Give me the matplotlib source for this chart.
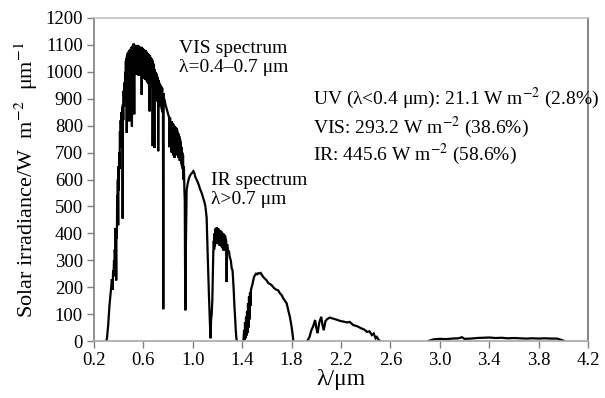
import numpy as np
import matplotlib
matplotlib.use("Agg")
import matplotlib.pyplot as plt

plt.rcParams["font.family"] = ["Liberation Serif", "DejaVu Serif"]
plt.rcParams["mathtext.fontset"] = "stix"

# UV + visible + near IR band up to the 1.4 um water gap
band1_wl = [0.300, 0.305, 0.315, 0.325, 0.335, 0.345, 0.350, 0.355, 0.358, 0.362,
            0.365, 0.368, 0.372, 0.375, 0.378, 0.380, 0.382, 0.385, 0.388, 0.390,
            0.393, 0.396, 0.398, 0.401, 0.404, 0.407, 0.410, 0.413, 0.416, 0.419,
            0.422, 0.425, 0.428, 0.431, 0.432, 0.434, 0.437, 0.440, 0.443, 0.446,
            0.449, 0.452, 0.455, 0.458, 0.461, 0.464, 0.465, 0.467, 0.470, 0.473,
            0.476, 0.479, 0.482, 0.485, 0.486, 0.488, 0.491, 0.494, 0.497, 0.500,
            0.503, 0.505, 0.507, 0.510, 0.513, 0.516, 0.519, 0.522, 0.524, 0.526,
            0.529, 0.532, 0.535, 0.538, 0.541, 0.544, 0.547, 0.550, 0.553, 0.556,
            0.559, 0.562, 0.565, 0.568, 0.571, 0.574, 0.577, 0.580, 0.583, 0.586,
            0.589, 0.592, 0.595, 0.598, 0.601, 0.604, 0.607, 0.610, 0.613, 0.616,
            0.619, 0.622, 0.625, 0.628, 0.631, 0.634, 0.637, 0.640, 0.643, 0.646,
            0.648, 0.650, 0.653, 0.656, 0.659, 0.662, 0.665, 0.668, 0.671, 0.674,
            0.675, 0.677, 0.680, 0.683, 0.686, 0.689, 0.692, 0.695, 0.698, 0.701,
            0.704, 0.707, 0.710, 0.713, 0.716, 0.719, 0.720, 0.722, 0.725, 0.728,
            0.731, 0.734, 0.737, 0.740, 0.743, 0.746, 0.749, 0.752, 0.755, 0.758,
            0.761, 0.764, 0.767, 0.772, 0.778, 0.784, 0.790, 0.796, 0.802, 0.808,
            0.812, 0.816, 0.820, 0.824, 0.828, 0.831, 0.834, 0.837, 0.840, 0.843,
            0.846, 0.849, 0.852, 0.855, 0.858, 0.861, 0.864, 0.867, 0.870, 0.873,
            0.876, 0.879, 0.882, 0.885, 0.888, 0.891, 0.894, 0.897, 0.900, 0.903,
            0.906, 0.909, 0.912, 0.915, 0.918, 0.921, 0.924, 0.928, 0.932, 0.935,
            0.937, 0.940, 0.944, 0.950, 0.958, 0.966, 0.975, 0.985, 0.995, 1.004,
            1.012, 1.020, 1.030, 1.040, 1.050, 1.058, 1.066, 1.075, 1.085, 1.095,
            1.102, 1.107, 1.112, 1.116, 1.120, 1.125, 1.130, 1.135, 1.139, 1.143,
            1.148, 1.153, 1.158, 1.162, 1.166, 1.170, 1.173, 1.176, 1.179, 1.182,
            1.185, 1.188, 1.191, 1.194, 1.197, 1.200, 1.203, 1.206, 1.209, 1.212,
            1.215, 1.218, 1.221, 1.224, 1.227, 1.230, 1.233, 1.236, 1.239, 1.242,
            1.245, 1.248, 1.251, 1.254, 1.258, 1.262, 1.266, 1.270, 1.274, 1.278,
            1.284, 1.292, 1.300, 1.308, 1.315, 1.322, 1.330, 1.336, 1.342, 1.348,
            1.352, 1.356]
band1_val = [0, 10, 60, 130, 180, 230, 190, 262, 240, 300,
             270, 340, 300, 420, 330, 225, 420, 380, 540, 470,
             600, 430, 650, 560, 700, 640, 780, 720, 820, 760,
             850, 780, 870, 800, 455, 880, 820, 930, 870, 960,
             900, 1000, 930, 1040, 960, 1050, 773, 1060, 980, 1070,
             990, 1075, 985, 1080, 816, 1080, 990, 1085, 980, 1090,
             995, 1090, 797, 1095, 990, 1100, 1000, 1105, 990, 842,
             1100, 1000, 1100, 990, 1098, 995, 1095, 1000, 1100, 990,
             1098, 985, 1095, 1000, 1090, 990, 1092, 985, 1093, 915,
             1090, 980, 1088, 985, 1085, 975, 1082, 980, 1080, 970,
             1080, 975, 1075, 965, 1070, 960, 1068, 955, 1065, 950,
             1062, 853, 1060, 950, 1055, 945, 1050, 940, 1045, 935,
             724, 1040, 930, 1030, 920, 717, 1010, 920, 1000, 905,
             995, 900, 985, 890, 980, 880, 705, 970, 880, 960,
             870, 955, 880, 950, 870, 945, 860, 940, 850, 920,
             118, 920, 900, 895, 880, 870, 860, 850, 840, 830,
             720, 830, 760, 816, 700, 816, 740, 810, 690, 805,
             730, 800, 680, 798, 720, 795, 700, 791, 690, 785,
             700, 775, 680, 770, 690, 760, 670, 750, 680, 740,
             660, 720, 650, 700, 640, 690, 600, 650, 560, 520,
             300, 114, 350, 560, 583, 600, 612, 620, 625, 631,
             625, 610, 600, 590, 578, 565, 557, 545, 530, 515,
             500, 480, 459, 400, 330, 250, 180, 110, 50, 10,
             80, 100, 151, 250, 330, 373, 340, 400, 350, 417,
             360, 420, 365, 422, 370, 420, 365, 418, 360, 415,
             355, 412, 360, 410, 355, 408, 350, 405, 345, 400,
             340, 399, 335, 395, 385, 390, 380, 373, 219, 360,
             330, 336, 310, 299, 270, 262, 200, 140, 90, 40,
             15, 0]

# 1.4-1.8 um band
band2_wl = [1.410, 1.415, 1.419, 1.423, 1.427, 1.431, 1.435, 1.439, 1.443, 1.447,
            1.451, 1.455, 1.459, 1.463, 1.467, 1.471, 1.477, 1.485, 1.495, 1.504,
            1.512, 1.520, 1.530, 1.539, 1.550, 1.560, 1.570, 1.585, 1.598, 1.612,
            1.625, 1.639, 1.655, 1.670, 1.692, 1.706, 1.720, 1.733, 1.745, 1.760,
            1.773, 1.786, 1.800, 1.808, 1.814]
band2_val = [0, 40, 5, 70, 10, 90, 20, 110, 30, 140,
             50, 165, 80, 180, 130, 190, 200, 215, 237, 245,
             250, 248, 252, 251, 253, 245, 238, 231, 225, 215,
             212, 207, 198, 192, 188, 177, 170, 158, 150, 140,
             114, 90, 53, 25, 0]

# 1.9-2.5 um band
band3_wl = [1.927, 1.945, 1.960, 1.975, 1.990, 2.000, 2.010, 2.025, 2.040, 2.050,
            2.060, 2.075, 2.090, 2.110, 2.130, 2.160, 2.190, 2.220, 2.250, 2.270,
            2.300, 2.330, 2.360, 2.390, 2.410, 2.430, 2.450, 2.465, 2.480, 2.490,
            2.505, 2.516]
band3_val = [0, 15, 40, 55, 78, 50, 29, 70, 90, 60,
             40, 75, 82, 87, 84, 80, 75, 72, 69, 71,
             59, 55, 48, 42, 34, 36, 22, 28, 10, 15,
             4, 0]

# 2.9-4.0 um band
band4_wl = [2.907, 2.950, 3.000, 3.050, 3.100, 3.150, 3.180, 3.200, 3.250, 3.300,
            3.350, 3.400, 3.450, 3.500, 3.550, 3.600, 3.650, 3.700, 3.750, 3.800,
            3.850, 3.900, 3.950, 4.010]
band4_val = [0, 6, 8, 7, 9, 10, 14, 8, 9, 11,
             12, 13, 11, 12, 10, 11, 10, 9, 10, 9,
             10, 9, 9, 0]

x_ticks = [0.2, 0.6, 1.0, 1.4, 1.8, 2.2, 2.6, 3.0, 3.4, 3.8, 4.2]
y_ticks = list(range(0, 1201, 100))

fig = plt.figure(figsize=(6.05, 3.98), dpi=100)
ax = fig.add_axes([94 / 605, 1 - 341 / 398, (588 - 94) / 605, (341 - 18) / 398])

for wl, val in [(band1_wl, band1_val), (band2_wl, band2_val),
                (band3_wl, band3_val), (band4_wl, band4_val)]:
    ax.plot(wl, val, color="black", lw=1.6, solid_joinstyle="miter")

ax.set_xlim(0.2, 4.2)
ax.set_ylim(0, 1200)
ax.set_xticks(x_ticks)
ax.set_xticklabels([f"{t:.1f}" for t in x_ticks])
ax.set_yticks(y_ticks)
ax.tick_params(direction="out", length=5, width=1, color="#808080",
               labelsize=13.5, pad=3)

ax.spines["left"].set_color("#808080")
ax.spines["right"].set_color("#707070")
ax.spines["bottom"].set_color("#a8a8a8")
ax.spines["top"].set_color("#c0c0c0")
for s in ax.spines.values():
    s.set_linewidth(1.2)

ax.set_xlabel("λ/μm", fontsize=17, labelpad=0)
ax.set_ylabel("Solar irradiance/W  m$^{-2}$  μm$^{-1}$", fontsize=16, labelpad=4)

fs = 14
ax.text(0.89, 1085, "VIS spectrum", fontsize=fs, va="center")
ax.text(0.89, 1015, "λ=0.4–0.7 μm", fontsize=fs, va="center")
ax.text(1.15, 596, "IR spectrum", fontsize=fs, va="center")
ax.text(1.15, 525, "λ>0.7 μm", fontsize=fs, va="center")
ax.text(1.97, 900, "UV (λ<0.4 μm): 21.1 W m$^{-2}$ (2.8%)", fontsize=fs, va="center")
ax.text(1.97, 795, "VIS: 293.2 W m$^{-2}$ (38.6%)", fontsize=fs, va="center")
ax.text(1.97, 695, "IR: 445.6 W m$^{-2}$ (58.6%)", fontsize=fs, va="center")

fig.savefig("out.png", dpi=100)
